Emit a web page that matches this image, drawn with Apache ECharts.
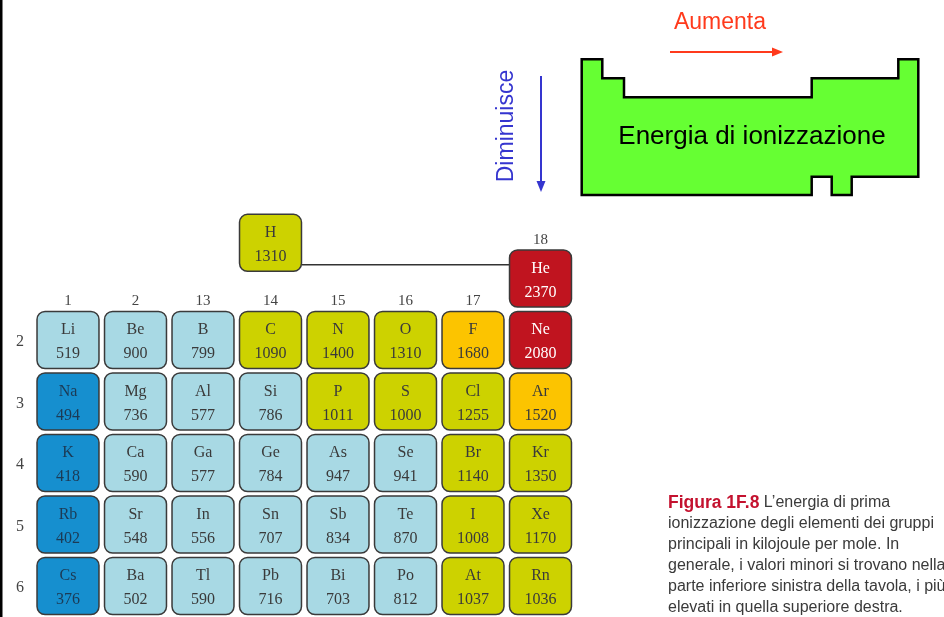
<!DOCTYPE html>
<html>
<head>
<meta charset="utf-8">
<script src="https://cdn.jsdelivr.net/npm/echarts@6/dist/echarts.min.js"></script>
<style>html,body{margin:0;padding:0;background:#fff;}#c{width:944px;height:617px;}</style>
</head>
<body>
<div id="c"></div>
<script>
// ---- data ----
const groupLabels = ['1', '2', '13', '14', '15', '16', '17', '18'];
const groupLabelRow = [2, 2, 2, 2, 2, 2, 2, 1];
const periodLabels = ['2', '3', '4', '5', '6'];
const periodRows = [2, 3, 4, 5, 6];

const period1Symbols = ['H', 'He'];
const period1Values = [1310, 2370];
const period1Cols = [3, 7];
const period1Rows = [0.42, 1];

const period2Symbols = ['Li', 'Be', 'B', 'C', 'N', 'O', 'F', 'Ne'];
const period2Values = [519, 900, 799, 1090, 1400, 1310, 1680, 2080];
const period3Symbols = ['Na', 'Mg', 'Al', 'Si', 'P', 'S', 'Cl', 'Ar'];
const period3Values = [494, 736, 577, 786, 1011, 1000, 1255, 1520];
const period4Symbols = ['K', 'Ca', 'Ga', 'Ge', 'As', 'Se', 'Br', 'Kr'];
const period4Values = [418, 590, 577, 784, 947, 941, 1140, 1350];
const period5Symbols = ['Rb', 'Sr', 'In', 'Sn', 'Sb', 'Te', 'I', 'Xe'];
const period5Values = [402, 548, 556, 707, 834, 870, 1008, 1170];
const period6Symbols = ['Cs', 'Ba', 'Tl', 'Pb', 'Bi', 'Po', 'At', 'Rn'];
const period6Values = [376, 502, 590, 716, 703, 812, 1037, 1036];

const captionLines = [
  'L\u2019energia di prima',
  'ionizzazione degli elementi dei gruppi',
  'principali in kilojoule per mole. In',
  'generale, i valori minori si trovano nella',
  'parte inferiore sinistra della tavola, i più',
  'elevati in quella superiore destra.'
];

// ---- build ----
const tiles = [];
period1Symbols.forEach((s, i) => tiles.push({ sym: s, val: period1Values[i], col: period1Cols[i], row: period1Rows[i] }));
[[period2Symbols, period2Values], [period3Symbols, period3Values], [period4Symbols, period4Values],
 [period5Symbols, period5Values], [period6Symbols, period6Values]].forEach((pv, pi) => {
  pv[0].forEach((s, ci) => tiles.push({ sym: s, val: pv[1][ci], col: ci, row: pi + 2 }));
});

function fillFor(v) {
  if (v < 500) return '#168fcf';
  if (v < 1000) return '#a8d9e4';
  if (v < 1500) return '#cdd200';
  if (v < 2000) return '#fcc400';
  return '#c0141f';
}
function textFor(v) {
  if (v >= 2000) return '#ffffff';
  if (v < 500) return '#1c3a55';
  return '#3a3a3a';
}
const serif = '"Liberation Serif", "DejaVu Serif", serif';
const sans = '"Liberation Sans", Arial, sans-serif';

const chart = echarts.init(document.getElementById('c'));

const option = {
  animation: false,
  backgroundColor: '#ffffff',
  grid: { left: 34.25, width: 540, top: 186.25, height: 430.5 },
  xAxis: { type: 'value', min: -0.5, max: 7.5, show: false },
  yAxis: { type: 'value', min: -0.5, max: 6.5, inverse: true, show: false },
  series: [
    {
      // connector H - He
      type: 'custom',
      data: [[period1Cols[0], period1Rows[0], period1Cols[1]]],
      renderItem: function (params, api) {
        const a = api.coord([api.value(0), api.value(1)]);
        const b = api.coord([api.value(2), api.value(1)]);
        const s = api.size([1, 1]);
        const hw = s[0] * 0.918 / 2;
        const y = a[1] + 22;
        return { type: 'line', shape: { x1: a[0] + hw, y1: y, x2: b[0] - hw, y2: y },
          style: { stroke: '#333', lineWidth: 1.5 } };
      },
      silent: true, z: 1
    },
    {
      type: 'custom',
      data: tiles.map(t => [t.col, t.row, t.val]),
      renderItem: function (params, api) {
        const t = tiles[params.dataIndex];
        const v = api.value(2);
        const p = api.coord([api.value(0), api.value(1)]);
        const s = api.size([1, 1]);
        const w = s[0] * 0.918, h = s[1] * 0.927;
        const tc = textFor(v);
        return {
          type: 'group',
          children: [
            { type: 'rect', shape: { x: p[0] - w / 2, y: p[1] - h / 2, width: w, height: h, r: 8 },
              style: { fill: fillFor(v), stroke: '#3a3a3a', lineWidth: 1.5 } },
            { type: 'text', x: p[0], y: p[1] - 10,
              style: { text: t.sym, fill: tc, font: '16px ' + serif, textAlign: 'center', textVerticalAlign: 'middle' } },
            { type: 'text', x: p[0], y: p[1] + 14,
              style: { text: String(v), fill: tc, font: '16px ' + serif, textAlign: 'center', textVerticalAlign: 'middle' } }
          ]
        };
      },
      silent: true, z: 2
    },
    {
      // group labels
      type: 'custom',
      data: groupLabels.map((g, i) => [i, groupLabelRow[i]]),
      renderItem: function (params, api) {
        const p = api.coord([api.value(0), api.value(1)]);
        const s = api.size([1, 1]);
        return { type: 'text', x: p[0], y: p[1] - s[1] * 0.927 / 2 - 10,
          style: { text: groupLabels[params.dataIndex], fill: '#444', font: '15px ' + serif, textAlign: 'center', textVerticalAlign: 'middle' } };
      },
      silent: true
    },
    {
      // period labels
      type: 'custom',
      data: periodRows.map(r => [-0.5, r]),
      renderItem: function (params, api) {
        const p = api.coord([api.value(0), api.value(1)]);
        return { type: 'text', x: 20, y: p[1] + 2,
          style: { text: periodLabels[params.dataIndex], fill: '#444', font: '16px ' + serif, textAlign: 'center', textVerticalAlign: 'middle' } };
      },
      silent: true
    }
  ],
  graphic: [
    { type: 'rect', shape: { x: 0, y: 0, width: 2.5, height: 617 }, style: { fill: '#000' } },
    {
      type: 'polygon',
      shape: { points: [
        [581.7, 59.3], [602.3, 59.3], [602.3, 78.3], [624, 78.3], [624, 97.3], [811.7, 97.3],
        [811.7, 78.3], [898.3, 78.3], [898.3, 59.3], [918.3, 59.3], [918.3, 176.7], [851.7, 176.7],
        [851.7, 195], [831.7, 195], [831.7, 176.7], [811.7, 176.7], [811.7, 195], [581.7, 195]
      ] },
      style: { fill: '#66ff33', stroke: '#000', lineWidth: 2.5, lineJoin: 'miter' }
    },
    { type: 'text', x: 752, y: 137,
      style: { text: 'Energia di ionizzazione', fill: '#000', font: '26px ' + sans, textAlign: 'center', textVerticalAlign: 'middle' } },
    { type: 'text', x: 720, y: 23,
      style: { text: 'Aumenta', fill: '#ff3a1c', font: '23px ' + sans, textAlign: 'center', textVerticalAlign: 'middle' } },
    { type: 'line', shape: { x1: 670, y1: 52, x2: 775, y2: 52 }, style: { stroke: '#ff3a1c', lineWidth: 2 } },
    { type: 'polygon', shape: { points: [[772, 47.5], [783, 52], [772, 56.5]] }, style: { fill: '#ff3a1c' } },
    { type: 'text', x: 507, y: 126, rotation: Math.PI / 2,
      style: { text: 'Diminuisce', fill: '#3535cf', font: '23px ' + sans, textAlign: 'center', textVerticalAlign: 'middle' } },
    { type: 'line', shape: { x1: 541, y1: 76, x2: 541, y2: 184 }, style: { stroke: '#3535cf', lineWidth: 2 } },
    { type: 'polygon', shape: { points: [[536.5, 181], [541, 192], [545.5, 181]] }, style: { fill: '#3535cf' } },
    { type: 'text', x: 668, y: 492.5,
      style: {
        text: '{b|Figura 1F.8} ' + captionLines.join('\n'),
        fill: '#3a3a3a', font: '16px ' + sans, lineHeight: 21,
        rich: { b: { fill: '#c4122f', fontWeight: 'bold', fontSize: 17.5, fontFamily: sans, lineHeight: 21 } },
        textVerticalAlign: 'top'
      } }
  ]
};
chart.setOption(option);
</script>
</body>
</html>
